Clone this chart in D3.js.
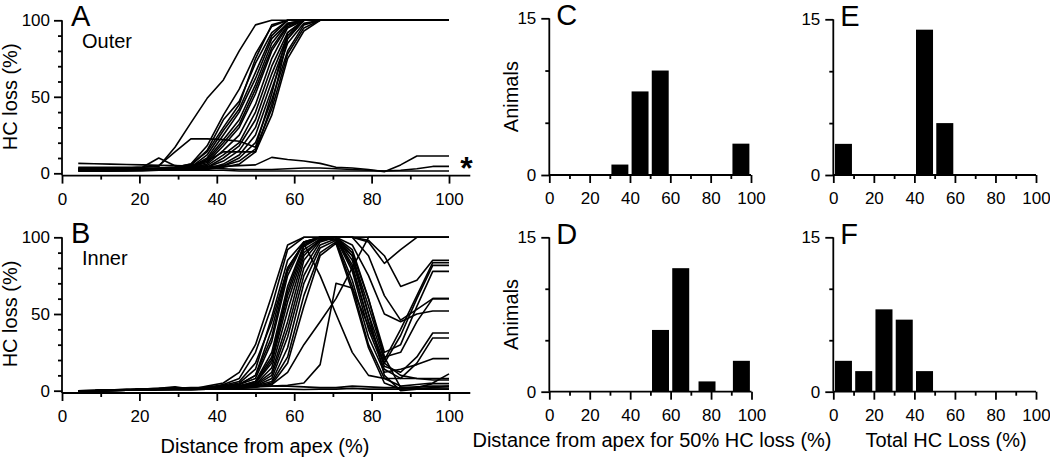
<!DOCTYPE html>
<html lang="en">
<meta charset="utf-8">
<style>
body { margin: 0; background: #fff; }
svg text { font-family: 'Liberation Sans', Arial, sans-serif; fill: #000; }
.axis path, .axis line { stroke: #000; stroke-width: 1.8px; }
.axis text { font-size: 17px; }
.curve { fill: none; stroke: #000; stroke-width: 1.6px; stroke-linejoin: round; }
.title { font-size: 20px; }
.letter { font-size: 29px; }
</style>
<body>
<div id="fig"></div>
<script src="https://cdn.jsdelivr.net/npm/d3@7"></script>
<script>

var width = 1050,
    height = 458;

// sample positions along the cochlea (% distance from apex)
var distance = [4.2, 8.3, 12.5, 16.7, 20.8, 25, 29.2, 33.3, 37.5, 41.7, 45.8, 50, 54.2, 58.3, 62.5, 66.7, 70.8, 75, 79.2, 83.3, 87.5, 91.7, 95.8, 100];

// panel A - outer hair cells, one row per animal
var outerLoss = [
  [4,4,4,4,4,4.5,17,33,49,61,80,97,100,100,100,100,100,100,100,100,100,100,100,100],
  [3.5,3.5,3.5,3.5,4,5,14,22.5,22.5,22,21,17,52,92,100,100,100,100,100,100,100,100,100,100],
  [3,3,3,3,3,3.5,4,5,8,14,14,14,45,88,100,100,100,100,100,100,100,100,100,100],
  [3,3,3,3,3,3.5,4,6,14,30,45,75,97,100,100,100,100,100,100,100,100,100,100,100],
  [3,3,3,3,3,3,4,6,18,38,55,78,96,100,100,100,100,100,100,100,100,100,100,100],
  [3,3,3,3,3,3,3.5,5,15,35,47,72,92,100,100,100,100,100,100,100,100,100,100,100],
  [3,3,3,3,3,3,3,4,12,28,42,66,90,100,100,100,100,100,100,100,100,100,100,100],
  [3,3,3,3,3,3,3,4,10,25,40,62,88,98,100,100,100,100,100,100,100,100,100,100],
  [2,2,2,2,3,3,3,4,9,22,35,58,85,98,100,100,100,100,100,100,100,100,100,100],
  [2,2,2,3,3,3,3,4,8,20,32,55,82,97,100,100,100,100,100,100,100,100,100,100],
  [2,2,2,2,2,3,3,4,7,18,30,52,80,96,100,100,100,100,100,100,100,100,100,100],
  [2,2,2,2,2,2.5,3,3.5,6,15,25,45,75,95,100,100,100,100,100,100,100,100,100,100],
  [2,2,2,2,2,2.5,3,3.5,5,12,20,40,70,92,100,100,100,100,100,100,100,100,100,100],
  [2,2,2,2,2,2,2.5,3,4,10,18,35,65,90,100,100,100,100,100,100,100,100,100,100],
  [2,2,2,2,2,2,2.5,3,4,8,15,30,60,88,100,100,100,100,100,100,100,100,100,100],
  [2,2,2,2,2,2,2,2.5,3,6,12,25,55,85,98,100,100,100,100,100,100,100,100,100],
  [1.5,1.5,1.5,2,2,2,2,2.5,3,5,10,20,48,80,97,100,100,100,100,100,100,100,100,100],
  [1.5,1.5,1.5,1.5,2,2,2,2,3,5,8,16,42,78,95,100,100,100,100,100,100,100,100,100],
  [1.5,1.5,1.5,1.5,1.5,2,2,2,2.5,4,6,14,38,75,93,100,100,100,100,100,100,100,100,100],
  [6.5,6.2,6,5.8,5.5,5.2,5,4.8,4.5,4.5,5,5.5,10.4,9,8,6.5,4,3.5,2.5,1,5.5,11.3,11.3,11.3],
  [3,3,3.5,3.5,4,10,5,4,3.5,3,2.5,2.5,2.5,3,3.5,3.5,3,2.5,2,1.5,2,3,4.5,4.5],
  [2,2,2,2,2,2,2,2,2,2,1.5,1.5,1.5,1.5,1.5,1.5,1.5,1.5,1.5,1.5,1.5,1.5,1.5,1.5]
];

// panel B - inner hair cells
var innerLoss = [
  [0,0,0.5,0.5,1,1.5,2,1,3,5,12,30,62,95,100,100,100,100,100,100,100,100,100,100],
  [0,0,0.5,1,1,1.5,2.5,1,2,4,8,25,55,92,100,100,100,100,98,88,68,72,85,85],
  [0,0,0.3,0.5,1,1,1.5,1,2,3,5,14,48,85,97,100,100,100,88,62,46,53,60,60],
  [0,0,0.5,0.5,0.8,1,1.5,1,2,3,4,10,40,80,96,100,100,100,100,100,100,100,100,100],
  [0,0,0.3,0.5,0.8,1,1.2,1,1.5,2.5,4,8,32,75,97,100,100,100,97,83,92,100,100,100],
  [0,0.2,0.3,0.5,0.8,1,1.5,1,1.5,2.5,3,6,25,68,95,100,100,85,50,20,40,62,83.5,83.5],
  [0,0.2,0.3,0.5,1,1,1.5,1.2,2,2.5,3,5,20,62,92,99,100,80,45,18,36,60,81.7,81.7],
  [0,0,0.3,0.5,0.8,1,1.2,1,1.5,2,3,5,18,58,90,98,100,90,60,25,30,55,77.8,77.8],
  [0,0,0.2,0.5,0.8,1,1.2,1,1.5,2,2.5,4,15,52,88,99,100,88,55,22,25,45,60,60],
  [0,0,0.3,0.5,0.8,1,1.2,1,1.5,2,2.5,4,12,45,85,98,100,95,75,50,45,50,52,52],
  [0,0,0.3,0.4,0.8,1,1.2,1,1.5,2,2.5,3.5,10,40,80,97,100,82,45,16,12,22,37.6,37.6],
  [0,0,0.2,0.4,0.7,1,1,1,1.2,1.8,2,3,8,35,75,95,99,78,40,14,8,18,34.4,34.4],
  [0,0,0.2,0.4,0.7,0.8,1,1,1.2,1.5,2,3,6,28,70,93,98,72,35,12,14,17,20.9,20.9],
  [0,0,0.2,0.3,0.6,0.8,1,0.8,1.2,1.5,2,2.5,5,22,62,90,97,68,30,8,3,4,5,11],
  [0,0,0.2,0.3,0.6,0.8,1,0.8,1,1.5,1.8,2.5,4,18,55,88,96,65,28,5,1,2,4.6,4.6],
  [0,0,0.3,0.5,0.8,1,1.5,2,2,2.5,3,3,3,3,2.5,2,2,3,2.5,2,2,2.5,3,3],
  [0,0,0.2,0.3,0.5,0.5,0.8,0.8,1,1,1.2,1,1,1,0.8,1,1,1.5,1,1,1,1.5,1.8,1.8],
  [0,0,0.2,0.3,0.5,0.8,1,0.8,1,1.5,2,2.5,3,3.5,5,17,70,67,42,18,10,8,7,7],
  [0,0,0.2,0.5,0.8,1,1.5,1,2,3.5,6,18,45,80,96,75,50,25,10,8,8,8,8,8],
  [0,0,0.2,0.3,0.5,0.8,1,0.8,1,1.5,2,2.5,4,12,30,45,60,80,100,100,100,100,100,100],
  [0,0,0.3,0.5,0.8,1,1.5,1,1.5,2.5,4,10,35,78,97,100,100,92,60,22,2,1,1,1],
  [0,0,0.2,0.4,0.6,0.8,1,0.8,1.2,2,3,6,22,65,94,100,98,88,50,10,0,1,2,3]
];

// histograms: bin centre (%) and number of animals
var c50Bins = [35, 45, 55, 95],
    c50Counts = [1, 8, 10, 3];
var d50Bins = [55, 65, 78, 95],
    d50Counts = [6, 12, 1, 3];
var eTotalBins = [5, 45, 55],
    eTotalCounts = [3, 14, 5];
var fTotalBins = [5, 15, 25, 35, 45],
    fTotalCounts = [3, 2, 8, 7, 2];

var pctMajor = [0, 20, 40, 60, 80, 100],
    pctMinor = [10, 30, 50, 70, 90];
var lossLabels = [0, 50, 100],
    lossMinor = [10, 20, 30, 40, 60, 70, 80, 90];
var countLabels = [0, 15],
    countMinor = [5, 10];

var svg = d3.select("#fig").append("svg")
    .attr("width", width)
    .attr("height", height);

// ---- helpers ----
function bottomAxis(g, x, y0, xEnd, pad) {
  var a = g.append("g").attr("class", "axis").attr("transform", "translate(0," + y0 + ")");
  a.append("g").call(d3.axisBottom(x).tickValues(pctMinor).tickSize(4).tickFormat(""))
    .call(function(s) { s.select(".domain").remove(); });
  a.append("g").call(d3.axisBottom(x).tickValues(pctMajor).tickSize(8).tickPadding(pad))
    .call(function(s) { s.select(".domain").remove(); });
  a.append("line").attr("x1", x(0)).attr("x2", x(xEnd)).attr("y1", 0).attr("y2", 0);
}

function leftAxis(g, y, x0, major, minor, pad) {
  var a = g.append("g").attr("class", "axis").attr("transform", "translate(" + x0 + ",0)");
  a.append("g").call(d3.axisLeft(y).tickValues(minor).tickSize(4).tickFormat(""))
    .call(function(s) { s.select(".domain").remove(); });
  a.append("g").call(d3.axisLeft(y).tickValues(major).tickSize(8).tickPadding(pad))
    .call(function(s) { s.select(".domain").remove(); });
  var d = y.domain();
  a.append("line").attr("x1", 0).attr("x2", 0).attr("y1", y(d[0])).attr("y2", y(d[1]));
}

function linePanel(rows, top, bottom, letter, tag) {
  var x = d3.scaleLinear().domain([0, 100]).range([62, 449]);
  var y = d3.scaleLinear().domain([-1.5, 100]).range([bottom, top]);
  var g = svg.append("g");
  var line = d3.line().x(function(d, i) { return x(distance[i]); }).y(function(d) { return y(d); });
  g.selectAll(".curve").data(rows).enter().append("path")
      .attr("class", "curve")
      .attr("d", line);
  bottomAxis(g, x, y(-1.5), 105.5, 9);
  leftAxis(g, y, x(0), lossLabels, lossMinor, 4);
  g.append("text").attr("class", "letter").attr("x", x(0) + 9).attr("y", y(100) + 6).text(letter);
  g.append("text").attr("class", "title").attr("x", x(0) + 20).attr("y", y(100) + 28).text(tag);
  g.append("text").attr("class", "title")
      .attr("transform", "translate(17," + (y(50)) + ") rotate(-90)")
      .attr("text-anchor", "middle")
      .text("HC loss (%)");
  return {x: x, y: y};
}

function histPanel(bins, counts, left, right, top, bottom, letter, ylabel) {
  var x = d3.scaleLinear().domain([0, 100]).range([left, right]);
  var y = d3.scaleLinear().domain([0, 15]).range([bottom, top]);
  var g = svg.append("g");
  var half = 4.2;
  g.selectAll("rect").data(bins).enter().append("rect")
      .attr("x", function(d) { return x(d - half); })
      .attr("width", function(d) { return x(d + half) - x(d - half); })
      .attr("y", function(d, i) { return y(counts[i]); })
      .attr("height", function(d, i) { return y(0) - y(counts[i]); })
      .attr("fill", "#000");
  bottomAxis(g, x, y(0), 100, 9);
  leftAxis(g, y, x(0), countLabels, countMinor, 5);
  g.append("text").attr("class", "letter").attr("x", x(0) + 7).attr("y", y(15) + 7).text(letter);
  if (ylabel) {
    g.append("text").attr("class", "title")
        .attr("transform", "translate(" + (x(0) - 31) + "," + y(7.5) + ") rotate(-90)")
        .attr("text-anchor", "middle")
        .text(ylabel);
  }
}

// ---- panels ----
var pA = linePanel(outerLoss, 20.3, 175.6, "A", "Outer");
var pB = linePanel(innerLoss, 237.3, 393, "B", "Inner");

svg.append("text").attr("x", pA.x(104.5)).attr("y", pA.y(-1.5) + 3)
    .attr("text-anchor", "middle").style("font-size", "32px").style("font-weight", "bold").text("*");

histPanel(c50Bins, c50Counts, 549.3, 751, 18.3, 175, "C", "Animals");
histPanel(d50Bins, d50Counts, 549.3, 751.5, 237.3, 391.7, "D", "Animals");
histPanel(eTotalBins, eTotalCounts, 833.3, 1036, 19.3, 175, "E", null);
histPanel(fTotalBins, fTotalCounts, 833.3, 1036, 237.3, 391.7, "F", null);

// bottom titles
svg.append("text").attr("class", "title").attr("text-anchor", "middle")
    .attr("x", 265).attr("y", 453).text("Distance from apex (%)");
svg.append("text").attr("class", "title").attr("text-anchor", "middle")
    .attr("x", 652).attr("y", 447).text("Distance from apex for 50% HC loss (%)");
svg.append("text").attr("class", "title").attr("text-anchor", "middle")
    .attr("x", 946).attr("y", 447).text("Total HC Loss (%)");

</script>
</body>
</html>
